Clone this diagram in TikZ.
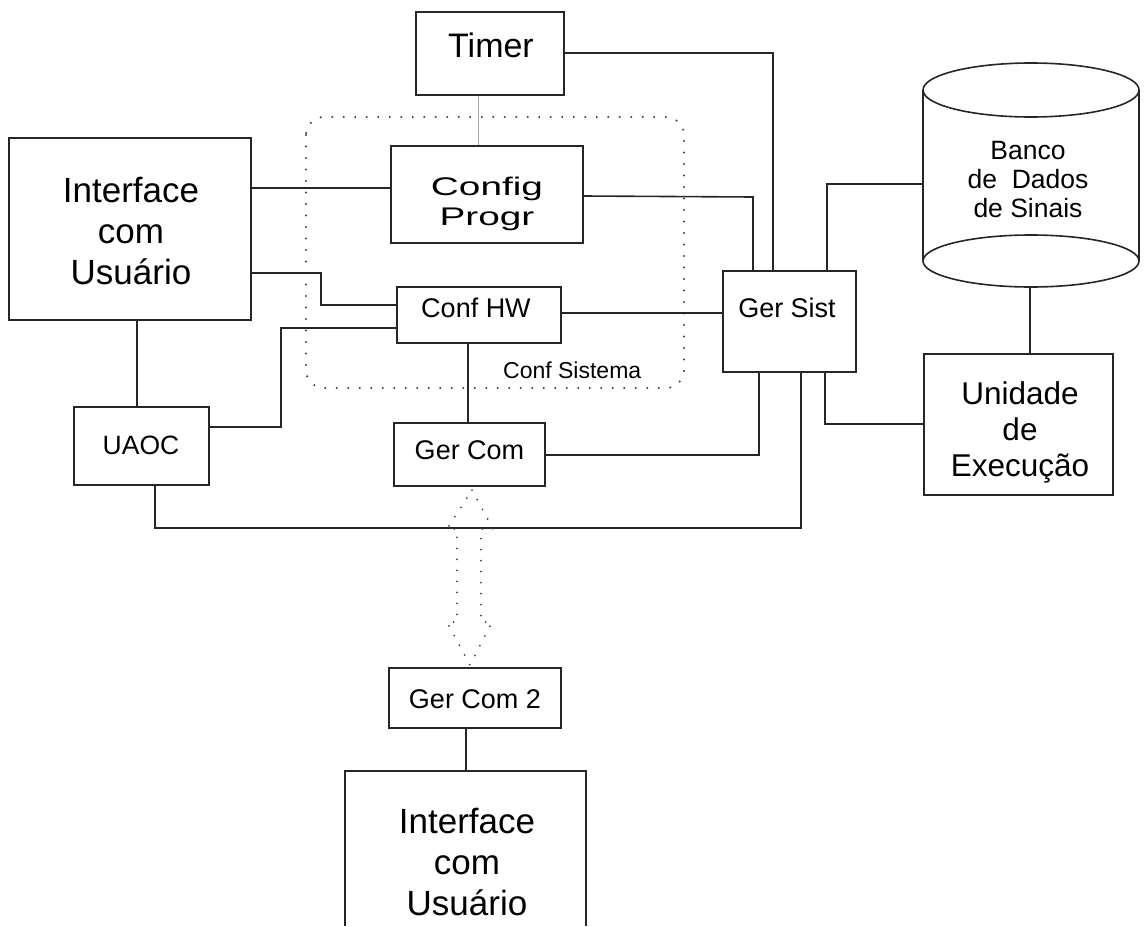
\documentclass[tikz,border=0pt]{standalone}
\usepackage{fontspec}
\usepackage{graphicx}
\setmainfont{Liberation Sans}
\begin{document}
\begin{tikzpicture}[x=1pt,y=-1pt,
  box/.style={draw=black!85, line width=1.6pt, rectangle, inner sep=0pt},
  wire/.style={draw=black!85, line width=1.6pt},
  dotline/.style={draw=black!75, line width=2.3pt, line cap=round, dash pattern=on 0pt off 11.5pt},
  big/.style={font=\fontsize{35}{41}\selectfont, align=center, inner sep=0pt},
  mid/.style={font=\fontsize{31.5}{36}\selectfont, align=center, inner sep=0pt},
  small/.style={font=\fontsize{27}{30}\selectfont, inner sep=0pt},
  dbtext/.style={font=\fontsize{26.5}{29}\selectfont, align=center, inner sep=0pt}]
\useasboundingbox (0,0) rectangle (1145,926);

% system configuration group
\draw[dotline, rounded corners=18pt] (306,117) rectangle (684,388);
\node[font=\fontsize{23}{28}\selectfont, inner sep=0pt, anchor=west] (confsis) at (503,370) {Conf Sistema};

% boxes
\node[box, minimum width=148pt, minimum height=83pt] (timer) at (490,53.5) {};
\node[font=\fontsize{34}{40}\selectfont, inner sep=0pt] at (491,45) {Timer};

\node[box, minimum width=192pt, minimum height=97pt] (cfg) at (487,194.5) {};
\node[font=\fontsize{25.5}{30}\selectfont, align=center, inner sep=0pt] at (487,204)
  {\scalebox{1.52}[1]{Config}\\\scalebox{1.52}[1]{Progr}};

\node[box, minimum width=242pt, minimum height=182pt] (ui) at (130,229) {};
\node[big] at (131,231) {Interface\\com\\Usuário};

\node[box, minimum width=164pt, minimum height=56pt] (hw) at (479,315) {};
\node[small] at (476,308) {Conf HW};

\node[box, minimum width=135pt, minimum height=78pt] (uaoc) at (141.5,446) {};
\node[font=\fontsize{26.5}{30}\selectfont, inner sep=0pt] at (141,445) {UAOC};

\node[box, minimum width=151pt, minimum height=63pt] (gcom) at (469.5,454.5) {};
\node[small] at (469.5,450) {Ger Com};

\node[box, minimum width=133pt, minimum height=101pt] (gsis) at (789.5,321.5) {};
\node[small] at (787,308) {Ger Sist};

\node[box, minimum width=189pt, minimum height=141pt] (exec) at (1018.5,424.5) {};
\node[mid] at (1020,432) {Unidade\\de\\Execução};

\node[box, minimum width=172pt, minimum height=60pt] (gcom2) at (475,698) {};
\node[font=\fontsize{27}{30}\selectfont, inner sep=0pt] at (475,699) {Ger Com 2};

% user interface at the foot, open below the page edge
\draw[wire] (345,926) -- (345,771) -- (586,771) -- (586,926);
\coordinate (ui2top) at (466,771);
\node[big] at (467,862) {Interface\\com\\Usuário};

% signal database cylinder
\draw[wire] (923,90) -- (923,261);
\draw[wire] (1139,90) -- (1139,261);
\draw[wire, fill=white] (1031,90) ellipse [x radius=108, y radius=27];
\draw[wire] (1031,261) ellipse [x radius=108, y radius=26];
\node[minimum width=216pt, minimum height=224pt, inner sep=0pt] (db) at (1031,175) {};
\node[dbtext] at (1028,180) {Banco\\de~ Dados\\de Sinais};

% connectors
\draw[draw=black!35, line width=0.9pt] (timer.south -| 478,0) -- (cfg.north -| 478,0);
\draw[wire] (timer.east |- 0,53) -- (773,53) -- (gsis.north -| 773,0);
\draw[wire] (cfg.east |- 0,196) -- (753,197) -- (gsis.north -| 753,0);
\draw[wire] (gsis.north -| 827,0) -- (827,184) -- (db.west |- 0,184);
\draw[wire] (db.south -| 1030,0) -- (exec.north -| 1030,0);
\draw[wire] (hw.east |- 0,313) -- (gsis.west |- 0,313);
\draw[wire] (ui.east |- 0,188) -- (cfg.west |- 0,188);
\draw[wire] (ui.east |- 0,273) -- (321,273) -- (321,305) -- (hw.west |- 0,305);
\draw[wire] (uaoc.east |- 0,427) -- (281,427) -- (281,328) -- (hw.west |- 0,328);
\draw[wire] (ui.south -| 137,0) -- (uaoc.north -| 137,0);
\draw[wire] (hw.south -| 468,0) -- (gcom.north -| 468,0);
\draw[wire] (gsis.south -| 759,0) -- (759,455) -- (gcom.east |- 0,455);
\draw[wire] (gsis.south -| 825,0) -- (825,424) -- (exec.west |- 0,424);
\draw[wire] (gsis.south -| 801,0) -- (801,528) -- (155,528) -- (uaoc.south -| 155,0);
\draw[wire] (gcom2.south -| 466,0) -- (ui2top);

% dotted two-way link between the communication managers
\draw[dotline, line width=2pt, dash pattern=on 0pt off 11pt]
  (472,490) -- (493,529) -- (481,529) -- (481,622) -- (492,622) -- (470,665)
  -- (447,622) -- (457,622) -- (457,529) -- (447,529) -- cycle;
\end{tikzpicture}
\end{document}
